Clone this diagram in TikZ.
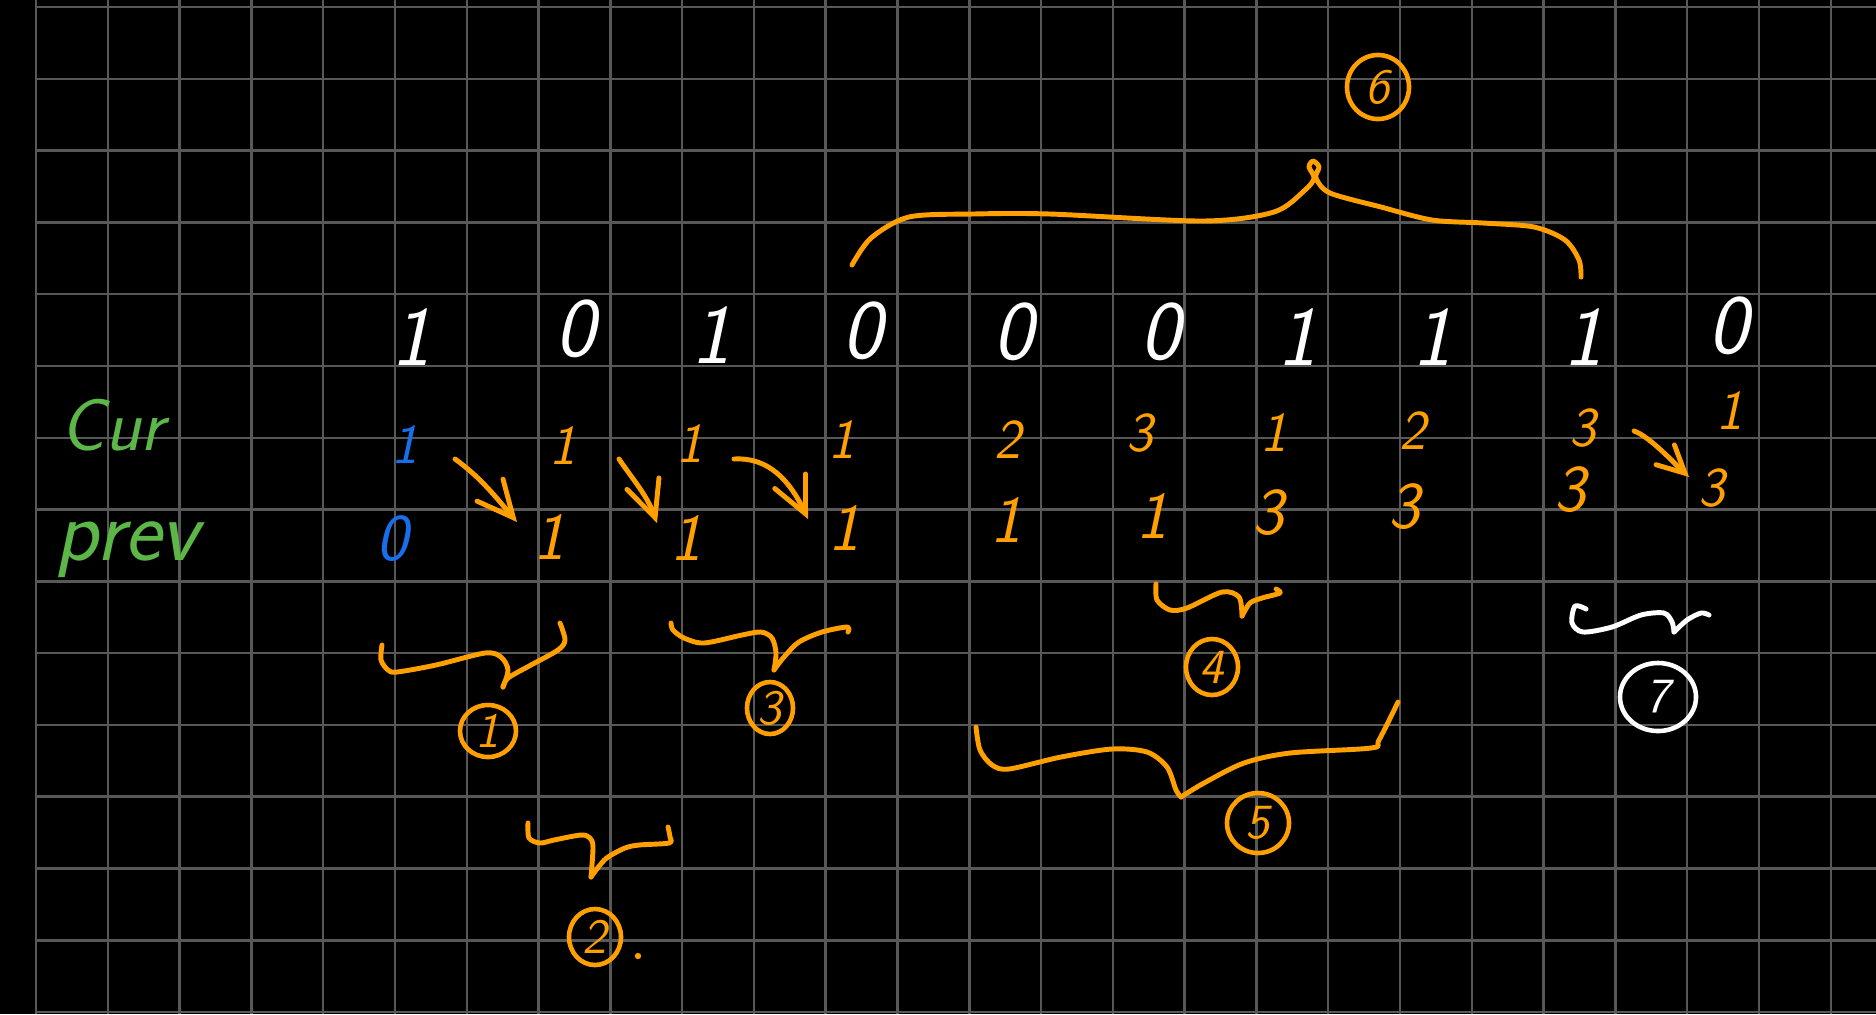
\documentclass[tikz,border=0pt]{standalone}
\usepackage{fontspec}
\usetikzlibrary{arrows.meta,shapes.geometric}

\definecolor{pen}{RGB}{255,160,0}
\definecolor{inkblue}{RGB}{25,110,235}
\definecolor{inkgreen}{RGB}{92,182,72}
\definecolor{gridc}{RGB}{88,88,88}

\begin{document}
\begin{tikzpicture}[x=0.01cm,y=-0.01cm,
  bit/.style={white,inner sep=0pt,font=\fontsize{24}{24}\sffamily\slshape},
  curv/.style={pen,inner sep=0pt,font=\fontsize{16}{16}\sffamily\slshape},
  prevv/.style={pen,inner sep=0pt,font=\fontsize{19}{19}\sffamily\slshape},
  lbl/.style={inkgreen,inner sep=0pt,anchor=base west},
  tagc/.style={ellipse,draw=pen,text=pen,line width=1.3pt,inner sep=0pt,
    font=\fontsize{14}{14}\sffamily\slshape},
  brc/.style={pen,line width=1.4pt,line cap=round,line join=round},
  flow/.style={pen,line width=1.4pt,line cap=round,
    -{Straight Barb[length=0.36cm,width=0.34cm,line cap=round]}}]
\fill[black] (0,0) rectangle (1876,1014);
\useasboundingbox (0,0) rectangle (1876,1014);
\draw[gridc,line width=0.7pt,shift={(36,7)}] (0,-7) grid[step=0.7175cm] (1840,1007);

\node[lbl,font=\fontsize{21}{21}\sffamily\slshape] (lcur) at (60,450) {Cur};
\node[lbl,font=\fontsize{25}{25}\sffamily\slshape] (lprev) at (55,560) {prev};

% bits
\node[bit] (b1) at (411,337) {1};
\node[bit] (b2) at (575,329) {0};
\node[bit] (b3) at (711,335) {1};
\node[bit] (b4) at (862,331) {0};
\node[bit] (b5) at (1013,332) {0};
\node[bit] (b6) at (1160,332) {0};
\node[bit] (b7) at (1297,337) {1};
\node[bit] (b8) at (1432,337) {1};
\node[bit] (b9) at (1583,337) {1};
\node[bit] (b10) at (1728,326) {0};

% cur
\node[curv,inkblue] (c1) at (405,445) {1};
\node[curv] (c2) at (563,446) {1};
\node[curv] (c3) at (690,444) {1};
\node[curv] (c4) at (842,440) {1};
\node[curv] (c5) at (1008,440) {2};
\node[curv] (c6) at (1140,433) {3};
\node[curv] (c7) at (1274,433) {1};
\node[curv] (c8) at (1413,431) {2};
\node[curv] (c9) at (1583,428) {3};
\node[curv] (c10) at (1730,411) {1};

% prev
\node[prevv,inkblue] (p1) at (392,539) {0};
\node[prevv] (p2) at (549,537) {1};
\node[prevv] (p3) at (686,538) {1};
\node[prevv] (p4) at (844,528) {1};
\node[prevv] (p5) at (1006,520) {1};
\node[prevv] (p6) at (1152,516) {1};
\node[prevv] (p7) at (1268,513) {3};
\node[prevv] (p8) at (1404,507) {3};
\node[prevv] (p9) at (1570,490) {3};
\node[curv] (p10) at (1712,488) {3};

\coordinate (a1s) at (455,459);
\coordinate (a1e) at (517,522);
\coordinate (a2s) at (619,459);
\coordinate (a2e) at (657,523);
\coordinate (a3s) at (734,459);
\coordinate (a3e) at (808,519);
\coordinate (a4s) at (1634,431);
\coordinate (a4e) at (1689,477);
\draw[flow] (a1s) .. controls +(25,18) and +(-22,-26) .. (a1e);
\draw[flow] (a2s) .. controls +(12,18) and +(-10,-28) .. (a2e);
\draw[flow] (a3s) .. controls +(35,-2) and +(-18,-38) .. (a3e);
\draw[flow,-{Straight Barb[length=0.27cm,width=0.27cm,line cap=round]}]
  (a4s) .. controls +(15,5) and +(-15,-14) .. (a4e);

% braces
\draw[brc] plot[smooth] coordinates {(382,645) (381,660) (388,670) (397,672)
  (436,665) (485,653) (501,657) (508,670) (503,687)};
\draw[brc] plot[smooth] coordinates {(503,687) (508,678) (531,665) (558,650)
  (565,640) (560,623)};
\draw[brc] plot[smooth] coordinates {(671,623) (673,630) (684,638) (704,643)
  (742,635) (761,632) (772,638) (776,653) (774,670)};
\draw[brc] plot[smooth] coordinates {(774,670) (784,657) (799,642) (822,632)
  (847,627) (848,632)};
\draw[brc] plot[smooth] coordinates {(528,823) (529,838) (540,843) (554,840)
  (581,835) (590,838) (593,847) (591,877)};
\draw[brc] plot[smooth] coordinates {(591,877) (600,865) (608,857) (625,848)
  (639,845) (669,843) (670,837) (668,827)};
\draw[brc] plot[smooth] coordinates {(1156,584) (1157,600) (1170,610) (1187,608)
  (1222,592) (1239,597) (1242,616)};
\draw[brc] plot[smooth] coordinates {(1242,616) (1250,603) (1262,598) (1280,593)
  (1276,589)};
\draw[brc] plot[smooth] coordinates {(976,727) (980,750) (992,765) (1009,769)
  (1061,757) (1112,749) (1147,752) (1167,767) (1176,790) (1181,797)};
\draw[brc] plot[smooth] coordinates {(1181,797) (1204,783) (1244,763) (1290,753)
  (1371,748) (1379,740) (1398,702)};
\draw[brc] plot[smooth] coordinates {(852,265) (871,238) (909,217) (973,214)
  (1050,214) (1203,221) (1274,212) (1305,190) (1314,178) (1309,167) (1313,161)
  (1319,167) (1316,178) (1330,193) (1381,207) (1432,220) (1483,223) (1534,227)
  (1565,240) (1579,260) (1581,277)};
\draw[brc,white] plot[smooth] coordinates {(1586,609) (1575,606) (1572,623)
  (1583,632) (1612,627) (1641,615) (1664,613) (1672,622) (1674,632)};
\draw[brc,white] plot[smooth] coordinates {(1674,632) (1687,620) (1701,613)
  (1709,615)};

% tags
\node[tagc,minimum width=0.56cm,minimum height=0.52cm] (t1) at (488,731) {1};
\node[tagc,minimum width=0.52cm,minimum height=0.56cm] (t2) at (595,937) {2};
\node[tagc,minimum width=0.46cm,minimum height=0.52cm] (t3) at (770,708) {3};
\node[tagc,minimum width=0.52cm,minimum height=0.56cm] (t4) at (1212,667) {4};
\node[tagc,minimum width=0.62cm,minimum height=0.60cm] (t5) at (1258,823) {5};
\node[tagc,minimum width=0.62cm,minimum height=0.64cm] (t6) at (1378,87) {6};
\node[tagc,draw=white,text=white,minimum width=0.76cm,minimum height=0.68cm]
  (t7) at (1658,697) {7};
\fill[pen] (638,956) circle (0.9pt);
\end{tikzpicture}
\end{document}
